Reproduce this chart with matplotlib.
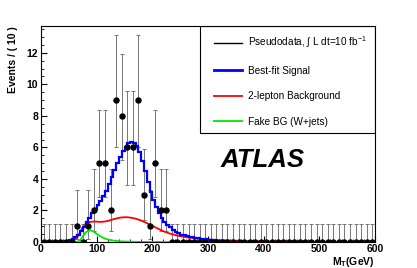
import numpy as np
import matplotlib
matplotlib.use("Agg")
import matplotlib.pyplot as plt
from matplotlib.lines import Line2D
from matplotlib.patches import Rectangle

plt.rcParams['font.family'] = ['Liberation Sans', 'DejaVu Sans']
plt.rcParams['mathtext.fontset'] = 'custom'
plt.rcParams['mathtext.rm'] = 'Liberation Sans'
plt.rcParams['mathtext.bf'] = 'Liberation Sans:bold'

# pseudodata: 10 GeV bins from 0 to 600
bin_edges = np.arange(0, 610, 10)
counts = [0, 0, 0, 0, 0, 0, 1, 0, 1, 2,
          5, 5, 2, 9, 8, 6, 6, 9, 3, 1,
          5, 2, 2, 0, 0, 0, 0, 0, 0, 0,
          0, 0, 0, 0, 0, 0, 0, 0, 0, 0,
          0, 0, 0, 0, 0, 0, 0, 0, 0, 0,
          0, 0, 0, 0, 0, 0, 0, 0, 0, 0]
# asymmetric poisson errors per count value
err_lo = {0: 0.0, 1: 0.827, 2: 1.292, 3: 1.633, 5: 2.158, 6: 2.377, 8: 2.768, 9: 2.945}
err_hi = {0: 1.148, 1: 2.299, 2: 2.637, 3: 2.918, 5: 3.382, 6: 3.583, 8: 3.945, 9: 4.109}

# best-fit curve, 5 GeV steps starting at 0
sig_start = 0
sig_step = 5
sig_vals = [0, 0, 0, 0, 0, 0, 0.02, 0.04, 0.06, 0.09,
            0.13, 0.2, 0.3, 0.45, 0.68, 0.95, 1.25, 1.55, 1.85, 2.1,
            2.35, 2.6, 2.9, 3.25, 3.65, 4.1, 4.55, 5.0, 5.4, 5.75,
            6.05, 6.25, 6.35, 6.3, 6.1, 5.7, 5.15, 4.5, 3.8, 3.2,
            2.65, 2.2, 1.85, 1.55, 1.3, 1.1, 0.92, 0.77, 0.65, 0.55,
            0.47, 0.42, 0.37, 0.33, 0.29, 0.26, 0.23, 0.21, 0.19, 0.17,
            0.15, 0.13, 0.11, 0.09, 0.07, 0.05, 0.04, 0.03, 0.02, 0.01]

# 2-lepton background
red_x = [0, 40, 50, 55, 60, 65, 70, 75, 80, 85, 90, 95, 100, 105, 110, 115, 120,
         125, 130, 135, 140, 145, 150, 155, 160, 170, 180, 190, 200, 210, 220,
         230, 240, 250, 260, 270, 280, 290, 300, 310, 320, 340, 360, 380, 400,
         450, 500, 600]
red_y = [0, 0, 0.02, 0.05, 0.12, 0.3, 0.6, 0.95, 1.15, 1.25, 1.28, 1.3, 1.29,
         1.28, 1.28, 1.3, 1.34, 1.39, 1.44, 1.49, 1.53, 1.56, 1.57, 1.57, 1.55,
         1.48, 1.36, 1.2, 1.02, 0.85, 0.68, 0.55, 0.45, 0.37, 0.31, 0.26, 0.22,
         0.19, 0.16, 0.14, 0.12, 0.09, 0.07, 0.05, 0.04, 0.02, 0.01, 0.0]

# fake background (W+jets)
green_x = [0, 60, 65, 70, 75, 80, 85, 90, 95, 100, 105, 110, 115, 120, 130,
           140, 150, 170, 200, 600]
green_y = [0, 0, 0.02, 0.1, 0.35, 0.6, 0.72, 0.73, 0.65, 0.52, 0.4, 0.3, 0.22,
           0.16, 0.09, 0.05, 0.03, 0.01, 0.0, 0.0]

fig = plt.figure(figsize=(4.17, 2.68), dpi=100)
ax = fig.add_axes([41 / 417, 26 / 268, 334 / 417, 216 / 268])

centers = (bin_edges[:-1] + bin_edges[1:]) / 2
lo = [err_lo[c] for c in counts]
hi = [err_hi[c] for c in counts]
ax.errorbar(centers, counts, yerr=[lo, hi], fmt='none', ecolor='#777777',
            elinewidth=0.7, capsize=1.3, capthick=0.7, zorder=1)

sig_edges = sig_start + sig_step * np.arange(len(sig_vals) + 1)
ax.stairs(sig_vals, sig_edges, color='#0000ff', lw=1.6, zorder=3, baseline=None)
ax.plot(red_x, red_y, color='#ff0000', lw=1.3, zorder=2)
ax.plot(green_x, green_y, color='#00e600', lw=1.3, zorder=4)
ax.plot(centers, counts, 'o', color='black', ms=3.6, zorder=5)

ax.set_xlim(0, 600)
ax.set_ylim(0, 13.7)
ax.set_xticks(range(0, 700, 100))
ax.set_xticks(range(0, 620, 20), minor=True)
ax.set_yticks(range(0, 14, 2))
ax.set_yticks(np.arange(0, 13.75, 0.5), minor=True)
ax.tick_params(which='both', direction='in', top=False, right=False,
               labelsize=7.5, pad=2)
ax.tick_params(axis='x', pad=1.5)
ax.tick_params(which='major', length=4, width=0.8)
ax.tick_params(which='minor', length=2, width=0.6)
for lab in ax.get_xticklabels() + ax.get_yticklabels():
    lab.set_fontweight('bold')
for sp in ax.spines.values():
    sp.set_linewidth(0.8)

ax.set_ylabel('Events / ( 10 )', fontsize=7.5, fontweight='bold', loc='top')
ax.yaxis.set_label_coords(-0.07, 1.0)
ax.set_xlabel(r'M$_\mathbf{T}$(GeV)', fontsize=7.5, fontweight='bold', loc='right')
ax.xaxis.set_label_coords(1.0, -0.06)

ax.text(0.537, 0.38, 'ATLAS', transform=ax.transAxes, fontsize=18.5,
        fontweight='bold', fontstyle='italic', ha='left', va='center')

# legend box
ax.add_patch(Rectangle((0.476, 0.505), 0.524, 0.495, transform=ax.transAxes,
                       fill=False, edgecolor='black', lw=0.8, zorder=6))
handles = [Line2D([], [], color='black', lw=1.0),
           Line2D([], [], color='#0000ff', lw=2.0),
           Line2D([], [], color='#ff0000', lw=1.3),
           Line2D([], [], color='#00e600', lw=1.3)]
labels = [r'Pseudodata, $\int$ L dt=10 fb$^{-1}$', 'Best-fit Signal',
          '2-lepton Background', 'Fake BG (W+jets)']
ax.legend(handles, labels, loc='upper left', bbox_to_anchor=(0.51, 0.975),
          frameon=False, fontsize=7.2, handlelength=2.8, handletextpad=0.6,
          labelspacing=1.55, borderaxespad=0, borderpad=0.3)

fig.savefig('out.png', dpi=100)
